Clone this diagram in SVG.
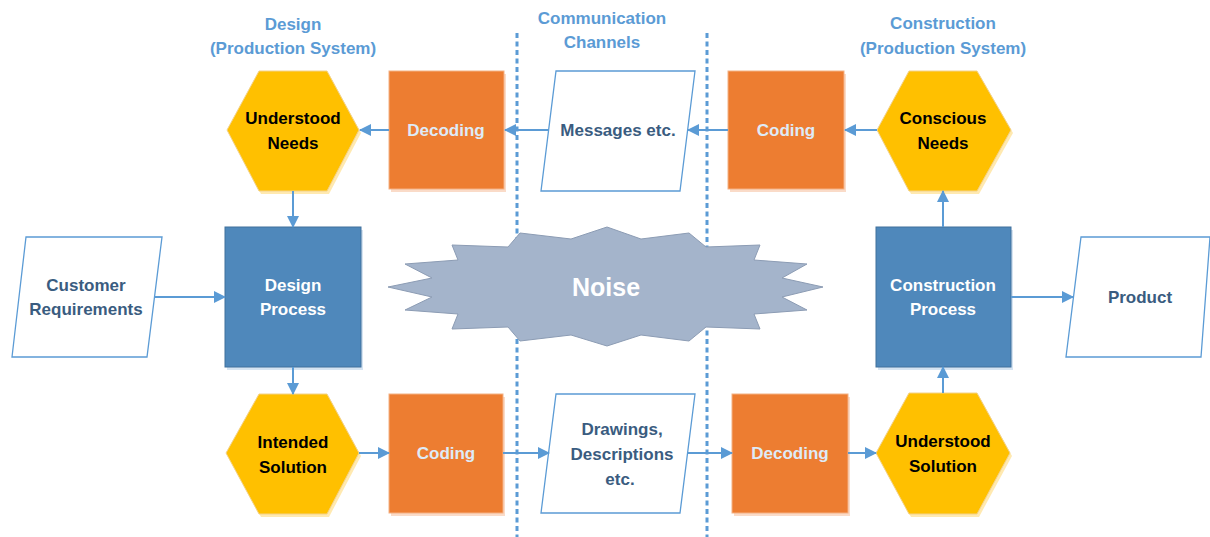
<svg xmlns="http://www.w3.org/2000/svg" width="1210" height="537" viewBox="0 0 1210 537">
<style>
text{font-family:"Liberation Sans",Arial,sans-serif;font-weight:bold;font-size:17px;text-anchor:middle}
.title{fill:#5B9BD5}
.hex{fill:#FFC000;stroke:#F2D28B;stroke-width:1}
.hexsh{fill:#FFE9B0}
.hext{fill:#000000}
.org{fill:#ED7D31;stroke:#F4B183;stroke-width:1}
.orgsh{fill:#FADBC8}
.orgt{fill:#DEEBF7}
.blu{fill:#4F88BB;stroke:#41719C;stroke-width:1}
.blush{fill:#D6E4F2}
.blut{fill:#FFFFFF}
.par{fill:#FFFFFF;stroke:#5B9BD5;stroke-width:1.3}
.part{fill:#3A5C80}
.conn{stroke:#5B9BD5;stroke-width:2;fill:none;marker-end:url(#arr)}
.dot{stroke:#5B9BD5;stroke-width:3;stroke-dasharray:5 3.5;fill:none}
</style>
<defs>
<marker id="arr" markerUnits="userSpaceOnUse" markerWidth="12" markerHeight="12" refX="11" refY="6" orient="auto">
<path d="M0,0 L12,6 L0,12 z" fill="#5B9BD5"/>
</marker>
</defs>
<rect width="1210" height="537" fill="#FFFFFF"/>

<g id="titles">
<text class="title" x="293" y="30">Design</text>
<text class="title" x="293" y="54">(Production System)</text>
<text class="title" x="602" y="24">Communication</text>
<text class="title" x="602" y="48">Channels</text>
<text class="title" x="943" y="29">Construction</text>
<text class="title" x="943" y="54">(Production System)</text>
</g>

<g id="channel-lines">
<line class="dot" x1="517" y1="33" x2="517" y2="537"/>
<line class="dot" x1="707" y1="33" x2="707" y2="537"/>
</g>

<g id="noise">
<polygon points="388,287 432,278 405,264 458,260 452,245 508,247 520,233 571,239 607,227 641,239 689,233 706,247 760,245 754,260 807,264 782,278 823,287 782,297 807,310 754,314 760,329 706,327 689,341 641,335 607,346 571,335 520,341 508,327 452,329 458,314 405,310 432,297" fill="#A4B4CB" stroke="#8C9CB4" stroke-width="1"/>
<text x="606" y="296" fill="#FFFFFF" style="font-size:25px">Noise</text>
</g>

<g id="understood-needs">
<polygon class="hexsh" points="229,133 261,74 329,74 361,133 329,194 261,194"/>
<polygon class="hex" points="227,130 259,71 327,71 359,130 327,191 259,191"/>
<text class="hext" x="293" y="124">Understood</text>
<text class="hext" x="293" y="149">Needs</text>
</g>

<g id="decoding-top">
<rect class="orgsh" x="391" y="74" width="115" height="118"/>
<rect class="org" x="389" y="71" width="115" height="118"/>
<text class="orgt" x="446" y="136">Decoding</text>
</g>

<g id="messages">
<polygon class="par" points="556,71 695,71 680,191 541,191"/>
<text class="part" x="618" y="136">Messages etc.</text>
</g>

<g id="coding-top">
<rect class="orgsh" x="730" y="74" width="116" height="118"/>
<rect class="org" x="728" y="71" width="116" height="118"/>
<text class="orgt" x="786" y="136">Coding</text>
</g>

<g id="conscious-needs">
<polygon class="hexsh" points="879,133 911,74 979,74 1013,133 979,194 911,194"/>
<polygon class="hex" points="877,130 909,71 977,71 1011,130 977,191 909,191"/>
<text class="hext" x="943" y="124">Conscious</text>
<text class="hext" x="943" y="149">Needs</text>
</g>

<g id="customer-requirements">
<polygon class="par" points="26,237 162,237 147,357 12,357"/>
<text class="part" x="86" y="291">Customer</text>
<text class="part" x="86" y="315">Requirements</text>
</g>

<g id="design-process">
<rect class="blush" x="227" y="230" width="136" height="140"/>
<rect class="blu" x="225" y="227" width="136" height="140"/>
<text class="blut" x="293" y="291">Design</text>
<text class="blut" x="293" y="315">Process</text>
</g>

<g id="construction-process">
<rect class="blush" x="878" y="230" width="135" height="140"/>
<rect class="blu" x="876" y="227" width="135" height="140"/>
<text class="blut" x="943" y="291">Construction</text>
<text class="blut" x="943" y="315">Process</text>
</g>

<g id="product">
<polygon class="par" points="1081,237 1210,237 1201,357 1066,357"/>
<text class="part" x="1140" y="303">Product</text>
</g>

<g id="intended-solution">
<polygon class="hexsh" points="228,456 261,397 329,397 361,456 329,517 261,517"/>
<polygon class="hex" points="226,453 259,394 327,394 359,453 327,514 259,514"/>
<text class="hext" x="293" y="448">Intended</text>
<text class="hext" x="293" y="473">Solution</text>
</g>

<g id="coding-bottom">
<rect class="orgsh" x="391" y="397" width="114" height="119"/>
<rect class="org" x="389" y="394" width="114" height="119"/>
<text class="orgt" x="446" y="459">Coding</text>
</g>

<g id="drawings">
<polygon class="par" points="556,394 695,394 680,513 541,513"/>
<text class="part" x="622" y="435">Drawings,</text>
<text class="part" x="622" y="460">Descriptions</text>
<text class="part" x="620" y="485">etc.</text>
</g>

<g id="decoding-bottom">
<rect class="orgsh" x="734" y="397" width="116" height="119"/>
<rect class="org" x="732" y="394" width="116" height="119"/>
<text class="orgt" x="790" y="459">Decoding</text>
</g>

<g id="understood-solution">
<polygon class="hexsh" points="878,456 911,396 979,396 1012,456 979,517 911,517"/>
<polygon class="hex" points="876,453 909,393 977,393 1010,453 977,514 909,514"/>
<text class="hext" x="943" y="447">Understood</text>
<text class="hext" x="943" y="472">Solution</text>
</g>

<g id="connectors">
<line class="conn" x1="389" y1="130" x2="360" y2="130"/>
<line class="conn" x1="548" y1="130" x2="505" y2="130"/>
<line class="conn" x1="728" y1="130" x2="688" y2="130"/>
<line class="conn" x1="877" y1="130" x2="845" y2="130"/>
<line class="conn" x1="293" y1="191" x2="293" y2="227"/>
<line class="conn" x1="155" y1="297" x2="225" y2="297"/>
<line class="conn" x1="293" y1="367" x2="293" y2="394"/>
<line class="conn" x1="943" y1="227" x2="943" y2="191"/>
<line class="conn" x1="1011" y1="297" x2="1073" y2="297"/>
<line class="conn" x1="943" y1="393" x2="943" y2="367"/>
<line class="conn" x1="359" y1="453" x2="389" y2="453"/>
<line class="conn" x1="503" y1="453" x2="549" y2="453"/>
<line class="conn" x1="688" y1="453" x2="732" y2="453"/>
<line class="conn" x1="848" y1="453" x2="876" y2="453"/>
</g>
</svg>
